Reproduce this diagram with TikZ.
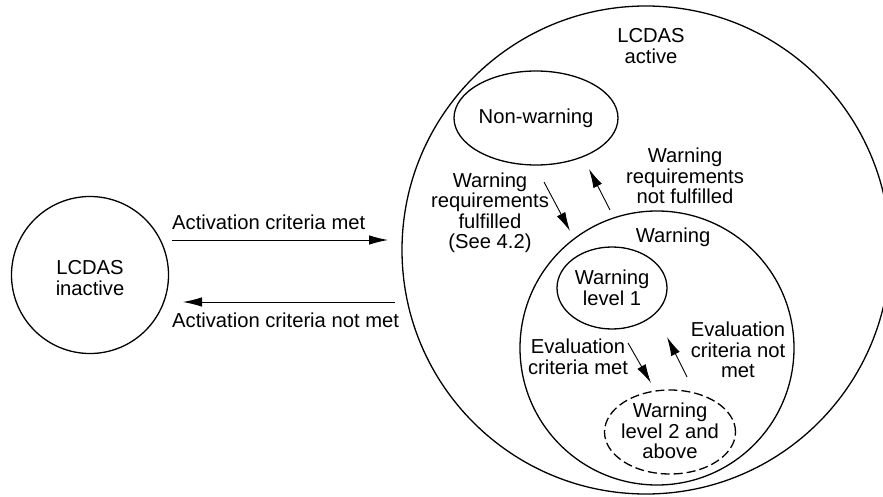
\documentclass[tikz,border=0pt]{standalone}
\usepackage{fontspec}
\setmainfont{Liberation Sans}
\usetikzlibrary{shapes.geometric,arrows.meta}
\begin{document}
\begin{tikzpicture}[x=1pt,y=-1pt,
  state/.style={draw,line width=1.3pt,circle,inner sep=0pt},
  oval/.style={draw,line width=1.3pt,ellipse,inner sep=0pt},
  lbl/.style={align=center,inner sep=0pt,font=\fontsize{20.2}{20.5}\selectfont},
  arr/.style={line width=0.9pt,-{Latex[length=19pt,width=9.5pt]}}]
\useasboundingbox (0,0) rectangle (883,497);
\clip (0,0) rectangle (883,497);
% states
\node[state,minimum size=157pt] (inactive) at (90,275) {};
\node[state,minimum size=488pt] (active) at (646,250) {};
\node[oval,minimum width=164pt,minimum height=94pt] (nonwarn) at (536,118) {};
\node[state,minimum size=274pt] (warn) at (657,348) {};
\node[oval,minimum width=110pt,minimum height=82pt] (lvl1) at (612,288) {};
\node[oval,dash pattern=on 9pt off 4pt,minimum width=131pt,minimum height=84pt] (lvl2) at (670,432) {};
% state texts
\node[lbl] (tinactive) at (inactive.center) [yshift=-3pt] {LCDAS\\inactive};
\node[lbl] (tactive) at (651,46) {LCDAS\\active};
\node[lbl] (tnonwarn) at (nonwarn.center) {Non-warning};
\node[lbl] (twarn) at (673,237) {Warning};
\node[lbl] (tlvl1) at (lvl1.center) {Warning\\level 1};
\node[lbl] (tlvl2) at (670,431) {Warning\\level 2 and\\above};
% transition labels
\node[lbl,anchor=west] (tacton) at (172,222) {Activation criteria met};
\node[lbl,anchor=west] (tactoff) at (172,320) {Activation criteria not met};
\node[lbl] (tfulfil) at (490,213) {Warning\\requirements\\fulfilled\\(See 4.2)};
\node[lbl] (tnotfulfil) at (685,176) {Warning\\requirements\\not fulfilled};
\node[lbl] (tevalmet) at (578,357) {Evaluation\\criteria met};
\node[lbl] (tevalnot) at (738,350) {Evaluation\\criteria not\\met};
% arrow end points
\coordinate (a1s) at (172,240); \coordinate (a1e) at (388,240);
\coordinate (a2s) at (395,302); \coordinate (a2e) at (183,302);
\coordinate (a3s) at (544,182); \coordinate (a3e) at (570,231);
\coordinate (a4s) at (610,210); \coordinate (a4e) at (589,169);
\coordinate (a5s) at (628,343); \coordinate (a5e) at (651,383);
\coordinate (a6s) at (687,377); \coordinate (a6e) at (667,337);
\draw[arr] (a1s) -- (a1e);
\draw[arr] (a2s) -- (a2e);
\draw[arr] (a3s) -- (a3e);
\draw[arr] (a4s) -- (a4e);
\draw[arr] (a5s) -- (a5e);
\draw[arr] (a6s) -- (a6e);
\end{tikzpicture}
\end{document}
